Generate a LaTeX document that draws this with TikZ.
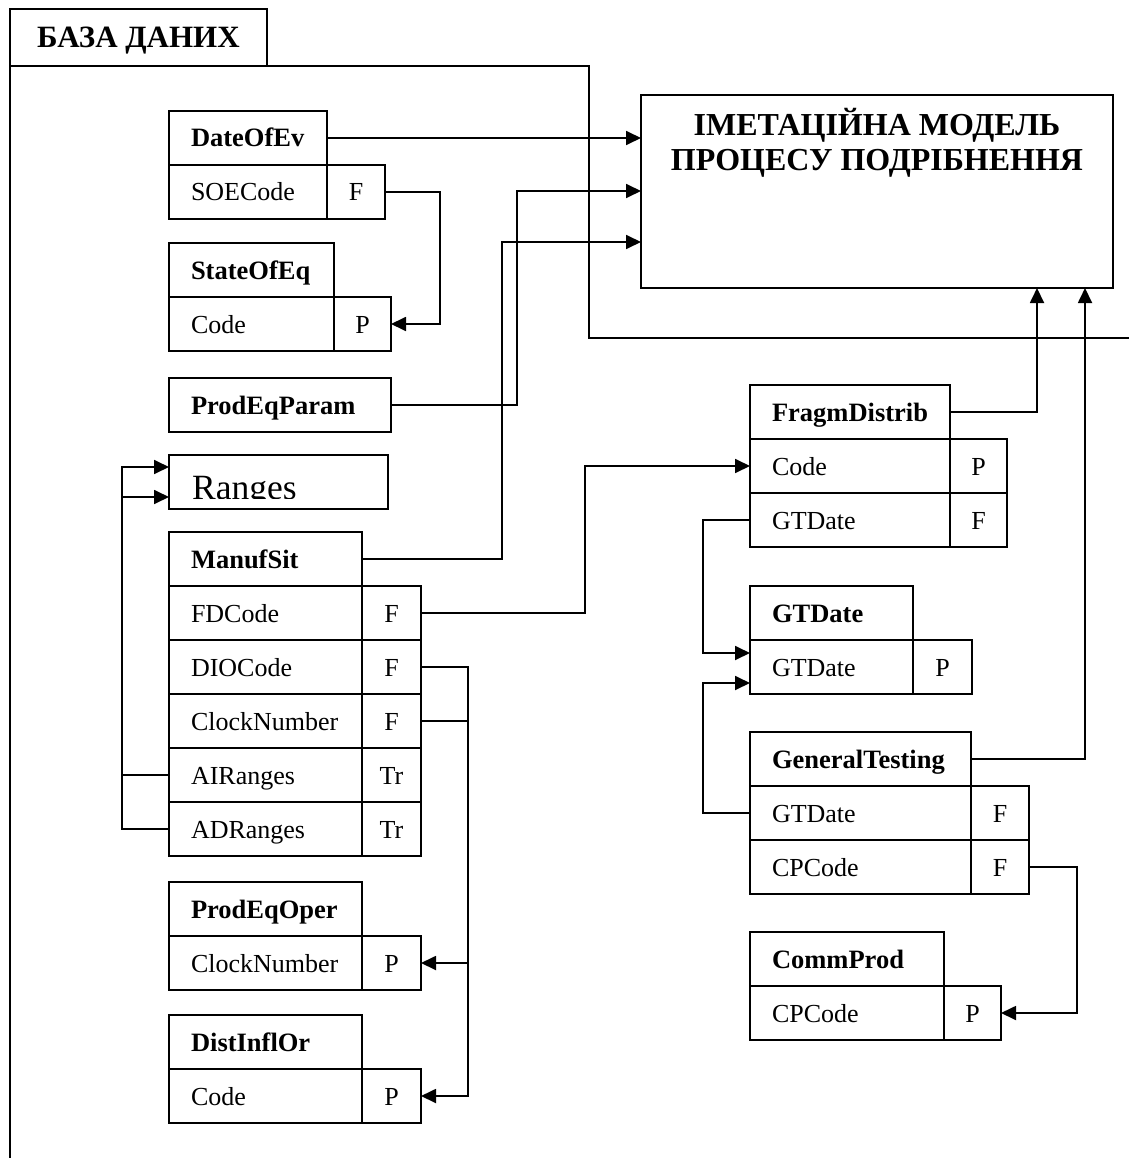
\documentclass[tikz,border=0pt]{standalone}
\usepackage{fontspec}
\setmainfont{Liberation Serif}
\usetikzlibrary{arrows.meta,calc}

\newcommand\rowfnt{\fontsize{26pt}{30pt}\selectfont}
\newcommand\hdrfnt{\fontsize{26.5pt}{30pt}\selectfont\bfseries}
\newcommand\titlefnt{\fontsize{31pt}{35pt}\selectfont\bfseries}
\newcommand\modelfnt{\fontsize{32pt}{35pt}\selectfont\bfseries}
\newcommand\rangesfnt{\fontsize{35.5pt}{38pt}\selectfont}

\begin{document}
\begin{tikzpicture}[x=1pt,y=-1pt,
  ln/.style={line width=1.8pt},
  arr/.style={ln,-{Triangle[length=15pt,width=14pt]}},
  cell/.style={draw,ln,anchor=north west,outer sep=0pt,minimum height=54pt,
    inner ysep=0pt,text height=20pt,text depth=2pt,font=\rowfnt},
  namecell/.style={cell,inner xsep=22pt,align=left,text width=#1},
  hdrcell/.style={namecell=#1,font=\hdrfnt},
  keycell/.style={cell,inner xsep=0pt,minimum width=#1},
]
\useasboundingbox (0,0) rectangle (1128,1158);

% outer frame of the database with its title tab
\node[draw,ln,anchor=north west,outer sep=0pt,minimum width=257pt,minimum height=57pt,
      inner sep=0pt,text height=22pt,text depth=2pt,font=\titlefnt] (db) at (10,9) {БАЗА ДАНИХ};
\draw[ln] (db.south west) -- (10,1162);
\draw[ln] (db.south east) -- (589,66) -- (589,338) -- (1132,338);

% simulation model block
\node[draw,ln,anchor=north west,outer sep=0pt,minimum width=472pt,minimum height=193pt,inner sep=0pt] (imm) at (641,95) {};
\node[anchor=base,font=\modelfnt] (immt1) at (877,136) {ІМЕТАЦІЙНА МОДЕЛЬ};
\node[anchor=base,font=\modelfnt] (immt2) at (877,171) {ПРОЦЕСУ ПОДРІБНЕННЯ};
\coordinate (imin2) at ($(imm.north west)+(0,96)$);
\coordinate (imin3) at ($(imm.north west)+(0,147)$);
\coordinate (imout1) at ($(imm.south west)+(396,0)$);
\coordinate (imout2) at ($(imm.south west)+(444,0)$);

% ---- left column of tables ----
\node[hdrcell=114pt] (dateofev) at (169,111) {DateOfEv};
\node[namecell=114pt] (soecode) at (dateofev.south west) {SOECode};
\node[keycell=58pt] (soecodek) at (soecode.north east) {F};

\node[hdrcell=121pt] (stateofeq) at (169,243) {StateOfEq};
\node[namecell=121pt] (soecodep) at (stateofeq.south west) {Code};
\node[keycell=57pt] (stateofeqk) at (soecodep.north east) {P};

\node[hdrcell=178pt] (prodeqparam) at (169,378) {ProdEqParam};

\node[cell,minimum width=219pt] (ranges) at (169,455) {};
\begin{scope}
  \clip (169,455) rectangle (388,498.5);
  \node[anchor=base west,inner sep=0pt,font=\rangesfnt] (rangestxt) at (192,499) {Ranges};
\end{scope}
\coordinate (rin1) at ($(ranges.west)+(0,-15)$);
\coordinate (rin2) at ($(ranges.west)+(0,15)$);

\node[hdrcell=149pt] (manufsit) at (169,532) {ManufSit};
\node[namecell=149pt] (fdcode) at (manufsit.south west) {FDCode};
\node[keycell=59pt] (fdcodek) at (fdcode.north east) {F};
\node[namecell=149pt] (diocode) at (fdcode.south west) {DIOCode};
\node[keycell=59pt] (diocodek) at (diocode.north east) {F};
\node[namecell=149pt] (clock) at (diocode.south west) {ClockNumber};
\node[keycell=59pt] (clockk) at (clock.north east) {F};
\node[namecell=149pt] (airanges) at (clock.south west) {AIRanges};
\node[keycell=59pt] (airangesk) at (airanges.north east) {Tr};
\node[namecell=149pt] (adranges) at (airanges.south west) {ADRanges};
\node[keycell=59pt] (adrangesk) at (adranges.north east) {Tr};

\node[hdrcell=149pt] (prodeqoper) at (169,882) {ProdEqOper};
\node[namecell=149pt] (peoclock) at (prodeqoper.south west) {ClockNumber};
\node[keycell=59pt] (prodeqoperk) at (peoclock.north east) {P};

\node[hdrcell=149pt] (distinflor) at (169,1015) {DistInflOr};
\node[namecell=149pt] (dicode) at (distinflor.south west) {Code};
\node[keycell=59pt] (distk) at (dicode.north east) {P};

% ---- right column of tables ----
\node[hdrcell=156pt] (fragmdistrib) at (750,385) {FragmDistrib};
\node[namecell=156pt] (fragcode) at (fragmdistrib.south west) {Code};
\node[keycell=57pt] (fragcodek) at (fragcode.north east) {P};
\node[namecell=156pt] (fdgtdate) at (fragcode.south west) {GTDate};
\node[keycell=57pt] (fdgtdatek) at (fdgtdate.north east) {F};

\node[hdrcell=119pt] (gtdatet) at (750,586) {GTDate};
\node[namecell=119pt] (gtdaterow) at (gtdatet.south west) {GTDate};
\node[keycell=59pt] (gtdatek) at (gtdaterow.north east) {P};
\coordinate (gtin1) at ($(gtdaterow.west)+(0,-14)$);
\coordinate (gtin2) at ($(gtdaterow.west)+(0,16)$);

\node[hdrcell=177pt] (generaltesting) at (750,732) {GeneralTesting};
\node[namecell=177pt] (gtgtdate) at (generaltesting.south west) {GTDate};
\node[keycell=58pt] (gtgtdatek) at (gtgtdate.north east) {F};
\node[namecell=177pt] (gtcpcode) at (gtgtdate.south west) {CPCode};
\node[keycell=58pt] (gtcpcodek) at (gtcpcode.north east) {F};

\node[hdrcell=150pt] (commprod) at (750,932) {CommProd};
\node[namecell=150pt] (cpcode) at (commprod.south west) {CPCode};
\node[keycell=57pt] (cpcodek) at (cpcode.north east) {P};

% ---- connectors ----
\draw[arr] (dateofev.east) -- (dateofev.east -| imm.west);
\draw[arr] (soecodek.east) -- ++(55,0) |- (stateofeqk.east);
\draw[arr] (prodeqparam.east) -- ++(126,0) |- (imin2);
\draw[arr] (manufsit.east) -- ++(140,0) |- (imin3);
\draw[arr] (fdcodek.east) -- ++(164,0) |- (fragcode.west);
\draw[arr] (diocodek.east) -- ++(47,0) |- (distk.east);
\draw[arr] (clockk.east) -- ++(47,0) |- (prodeqoperk.east);
\draw[arr] (airanges.west) -- ++(-47,0) |- (rin1);
\draw[arr] (adranges.west) -- ++(-47,0) |- (rin2);
\draw[arr] (fragmdistrib.east) -| (imout1);
\draw[arr] (generaltesting.east) -| (imout2);
\draw[arr] (fdgtdate.west) -- ++(-47,0) |- (gtin1);
\draw[arr] (gtgtdate.west) -- ++(-47,0) |- (gtin2);
\draw[arr] (gtcpcodek.east) -- ++(48,0) |- (cpcodek.east);
\end{tikzpicture}
\end{document}
